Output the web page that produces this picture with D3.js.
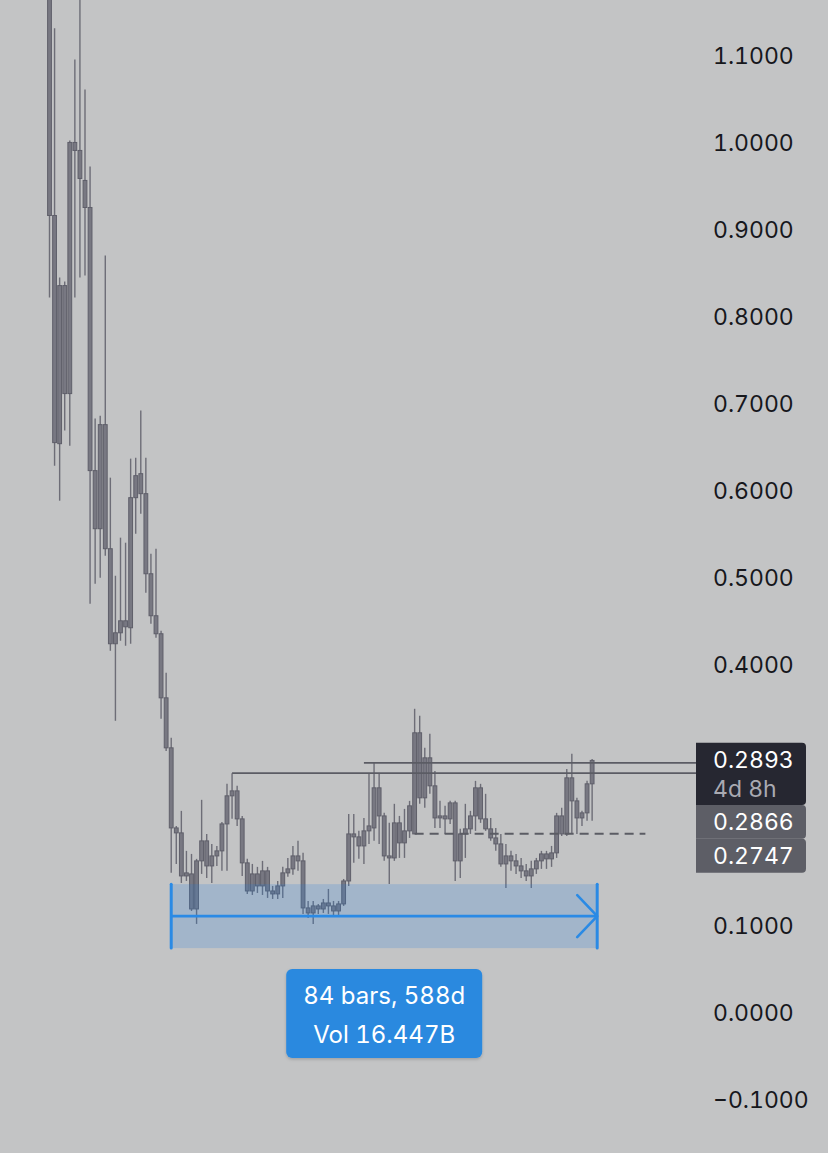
<!DOCTYPE html>
<html>
<head>
<meta charset="utf-8">
<script src="https://cdn.jsdelivr.net/npm/d3@7"></script>
<style>
  html, body { margin: 0; padding: 0; background: #c3c4c5; }
  svg { display: block; font-family: Inter, "Noto Sans", sans-serif; }
  svg text { font-variant-numeric: tabular-nums; font-feature-settings: "tnum" 1; }
</style>
</head>
<body>
<svg id="chart" width="828" height="1153"></svg>
<script>
// Weekly OHLC candles
const openP = [1.30, 0.9160, 0.6536, 0.8354, 0.7112, 1.0000, 0.9908, 0.9563, 0.9252, 0.6226,
  0.5558, 0.6755, 0.5328, 0.4235, 0.4361, 0.4499, 0.4419, 0.5915, 0.6191, 0.5961,
  0.5040, 0.4557, 0.4350, 0.3613, 0.3038, 0.2117, 0.2060, 0.1565, 0.1588, 0.1185,
  0.1738, 0.1968, 0.1680, 0.1795, 0.1853, 0.2163, 0.2486, 0.2543, 0.2221, 0.1715,
  0.1392, 0.1588, 0.1450, 0.1623, 0.1392, 0.1358, 0.1450, 0.1600, 0.1646, 0.1795,
  0.1738, 0.1197, 0.1139, 0.1220, 0.1185, 0.1254, 0.1220, 0.1162, 0.1243, 0.1507,
  0.2048, 0.2014, 0.1910, 0.2083, 0.2117, 0.2578, 0.2255, 0.1795, 0.1772, 0.2175,
  0.1945, 0.2083, 0.2048, 0.3211, 0.2463, 0.2923, 0.2601, 0.2232, 0.2255, 0.2221,
  0.2405, 0.1738, 0.2048, 0.2106, 0.2255, 0.2578, 0.2221, 0.2106, 0.2002, 0.1933,
  0.1703, 0.1795, 0.1738, 0.1680, 0.1623, 0.1565, 0.1646, 0.1738, 0.1818, 0.1761,
  0.1830, 0.2255, 0.2048, 0.2693, 0.2428, 0.2232, 0.2290, 0.2624];

const highP = [1.34, 1.1312, 0.8447, 0.8400, 1.0023, 1.0955, 1.19, 1.0610, 0.9724, 0.6824,
  0.6858, 0.8700, 0.6145, 0.5017, 0.5455, 0.5397, 0.6364, 0.6375, 0.6916, 0.6375,
  0.5270, 0.5328, 0.4384, 0.3901, 0.3153, 0.2140, 0.2313, 0.1853, 0.1818, 0.1761,
  0.2440, 0.2048, 0.1933, 0.1910, 0.2186, 0.2624, 0.2747, 0.2601, 0.2255, 0.1761,
  0.1703, 0.1669, 0.1738, 0.1669, 0.1450, 0.1507, 0.1669, 0.1772, 0.1910, 0.1968,
  0.1830, 0.1277, 0.1277, 0.1243, 0.1300, 0.1415, 0.1277, 0.1277, 0.1530, 0.2278,
  0.2278, 0.2083, 0.2232, 0.2739, 0.2866, 0.2739, 0.2290, 0.2175, 0.2394, 0.2255,
  0.2336, 0.2428, 0.3487, 0.3406, 0.3038, 0.3199, 0.2773, 0.2428, 0.2371, 0.2428,
  0.2428, 0.2106, 0.2394, 0.2313, 0.2658, 0.2624, 0.2509, 0.2232, 0.2117, 0.2048,
  0.1933, 0.1853, 0.1818, 0.1772, 0.1703, 0.1738, 0.1772, 0.1853, 0.1853, 0.1910,
  0.2290, 0.2348, 0.2796, 0.2969, 0.2463, 0.2313, 0.2658, 0.2911];

const lowP = [0.8216, 0.6283, 0.5880, 0.6686, 0.6513, 0.8216, 0.8447, 0.8470, 0.4695, 0.4925,
  0.4994, 0.5247, 0.4154, 0.3349, 0.4269, 0.4212, 0.4235, 0.5501, 0.5731, 0.4822,
  0.4465, 0.4304, 0.3372, 0.3003, 0.1600, 0.1703, 0.1484, 0.1507, 0.1162, 0.1013,
  0.1588, 0.1542, 0.1484, 0.1680, 0.1623, 0.1623, 0.2221, 0.2140, 0.1565, 0.1358,
  0.1346, 0.1369, 0.1346, 0.1312, 0.1300, 0.1300, 0.1312, 0.1554, 0.1577, 0.1623,
  0.1128, 0.1082, 0.1013, 0.1128, 0.1139, 0.1128, 0.1105, 0.1116, 0.1220, 0.1450,
  0.1715, 0.1761, 0.1703, 0.1933, 0.1968, 0.1933, 0.1738, 0.1473, 0.1738, 0.1772,
  0.1772, 0.2002, 0.2048, 0.2394, 0.2348, 0.2509, 0.2117, 0.2117, 0.2048, 0.2163,
  0.1507, 0.1542, 0.1772, 0.2048, 0.2083, 0.2175, 0.2083, 0.1968, 0.1853, 0.1669,
  0.1427, 0.1623, 0.1588, 0.1542, 0.1507, 0.1427, 0.1588, 0.1646, 0.1646, 0.1669,
  0.1772, 0.2025, 0.2025, 0.2048, 0.2048, 0.2140, 0.2198, 0.2198];

const closeP = [0.9160, 0.6548, 0.8354, 0.7112, 1.0000, 0.9908, 0.9586, 0.9252, 0.6226, 0.5558,
  0.6755, 0.5328, 0.4235, 0.4361, 0.4499, 0.4430, 0.5915, 0.6168, 0.5961, 0.5040,
  0.4557, 0.4350, 0.3613, 0.3038, 0.2117, 0.2060, 0.1565, 0.1600, 0.1185, 0.1738,
  0.1968, 0.1680, 0.1795, 0.1853, 0.2163, 0.2486, 0.2543, 0.2221, 0.1715, 0.1392,
  0.1588, 0.1450, 0.1623, 0.1392, 0.1358, 0.1450, 0.1600, 0.1646, 0.1795, 0.1738,
  0.1197, 0.1139, 0.1220, 0.1185, 0.1254, 0.1220, 0.1162, 0.1243, 0.1507, 0.2048,
  0.2014, 0.1910, 0.2083, 0.2140, 0.2578, 0.2255, 0.1795, 0.1772, 0.2175, 0.1945,
  0.2083, 0.2371, 0.3211, 0.2463, 0.2923, 0.2601, 0.2232, 0.2255, 0.2221, 0.2405,
  0.1738, 0.2048, 0.2106, 0.2255, 0.2578, 0.2221, 0.2106, 0.2002, 0.1933, 0.1703,
  0.1795, 0.1738, 0.1680, 0.1623, 0.1565, 0.1646, 0.1738, 0.1818, 0.1761, 0.1830,
  0.2255, 0.2048, 0.2693, 0.2428, 0.2232, 0.2290, 0.2624, 0.2893];

// Price axis ticks
const tickValues = [1.1, 1.0, 0.9, 0.8, 0.7, 0.6, 0.5, 0.4, 0.3, 0.2, 0.1, 0.0, -0.1];

// Horizontal levels: [price, start bar]
const levelPrices = [0.2866, 0.2747];
const levelStarts = [62, 36];
const dashedLevel = 0.2050;
const dashedFrom = 72, dashedTo = 117.5;

// Last price and countdown
const lastPrice = 0.2893;
const countdown = "4d 8h";

// Date range measurement
const rangeStart = 24, rangeBars = 84;
const rangeTop = 0.1470, rangeBottom = 0.0735;
const rangeLines = ["84 bars, 588d", "Vol 16.447B"];

const svg = d3.select("#chart");
const W = 828, H = 1153;
svg.append("rect").attr("width", W).attr("height", H).attr("fill", "#c3c4c5");

const nBars = closeP.length;
const x = d3.scaleLinear().domain([0, 108]).range([49.5, 597.2]);
const y = d3.scaleLinear().domain([0, 1.1]).range([1012, 55.5]);
const fmt = d3.format(".4f");

const bars = d3.range(nBars).map(i => ({ i, o: openP[i], h: highP[i], l: lowP[i], c: closeP[i] }));

// Price label stack on the axis (last price + level labels)
const labelX = 696, labelW = 110;
const lastY = y(lastPrice);
const darkTop = lastY - 17.8, darkH = 62.3, greyH = 33.85;
const stackBottom = darkTop + darkH + levelPrices.length * greyH;

// Axis labels hidden where the price label stack covers them
const shownTicks = tickValues.filter(v => y(v) + 12 < darkTop || y(v) - 12 > stackBottom);

const axis = d3.axisRight(y)
  .tickValues(shownTicks)
  .tickFormat(fmt)
  .tickSize(0)
  .tickPadding(0);
const axG = svg.append("g").attr("transform", "translate(713,0)").call(axis);
axG.select(".domain").remove();
axG.selectAll("text")
  .attr("font-family", "Inter, 'Noto Sans', sans-serif")
  .attr("font-size", 23)
  .attr("fill", "#16171c")
  .attr("dy", "0.35em");

// Candles
const cg = svg.append("g");
cg.selectAll("line.wick").data(bars).join("line")
  .attr("class", "wick")
  .attr("x1", d => x(d.i)).attr("x2", d => x(d.i))
  .attr("y1", d => y(d.h)).attr("y2", d => y(d.l))
  .attr("stroke", "#6d6d77").attr("stroke-width", 1.4);
cg.selectAll("rect.body").data(bars).join("rect")
  .attr("class", "body")
  .attr("x", d => x(d.i) - 1.9)
  .attr("width", 3.8)
  .attr("y", d => y(Math.max(d.o, d.c)))
  .attr("height", d => Math.max(1, Math.abs(y(d.o) - y(d.c))))
  .attr("fill", "#787882")
  .attr("stroke", "#5f5f6a")
  .attr("stroke-width", 1);

// Horizontal level lines
levelPrices.forEach((p, k) => {
  svg.append("line")
    .attr("x1", x(levelStarts[k])).attr("x2", labelX)
    .attr("y1", y(p)).attr("y2", y(p))
    .attr("stroke", "#5b5c64").attr("stroke-width", 1.8);
});
svg.append("line")
  .attr("x1", x(dashedFrom)).attr("x2", x(dashedTo))
  .attr("y1", y(dashedLevel)).attr("y2", y(dashedLevel))
  .attr("stroke", "#5b5c64").attr("stroke-width", 1.8)
  .attr("stroke-dasharray", "9,6");

// Date range measurement
const rx0 = x(rangeStart), rx1 = x(rangeStart + rangeBars);
const ry0 = y(rangeTop), ry1 = y(rangeBottom), rym = (ry0 + ry1) / 2;
svg.append("rect")
  .attr("x", rx0).attr("y", ry0)
  .attr("width", rx1 - rx0).attr("height", ry1 - ry0)
  .attr("fill", "#1e7fe0").attr("fill-opacity", 0.2);
const blue = "#2a8ae5";
[rx0, rx1].forEach(xx => {
  svg.append("line").attr("x1", xx).attr("x2", xx).attr("y1", ry0).attr("y2", ry1)
    .attr("stroke", blue).attr("stroke-width", 3).attr("stroke-linecap", "round");
});
svg.append("line").attr("x1", rx0).attr("x2", rx1).attr("y1", rym).attr("y2", rym)
  .attr("stroke", blue).attr("stroke-width", 2.6);
svg.append("path")
  .attr("d", `M${rx1 - 20},${rym - 21}L${rx1},${rym}L${rx1 - 20},${rym + 21}`)
  .attr("fill", "none").attr("stroke", blue).attr("stroke-width", 2.6)
  .attr("stroke-linecap", "round").attr("stroke-linejoin", "round");

// Range info box
const defs = svg.append("defs");
const f = defs.append("filter").attr("id", "shadow").attr("x", "-20%").attr("y", "-20%").attr("width", "140%").attr("height", "150%");
f.append("feDropShadow").attr("dx", 0).attr("dy", 1.5).attr("stdDeviation", 1.5)
  .attr("flood-color", "#000").attr("flood-opacity", 0.18);
const boxW = 196, boxH = 89;
const bx = (rx0 + rx1) / 2 - boxW / 2, by = ry1 + 21;
svg.append("rect").attr("x", bx).attr("y", by).attr("width", boxW).attr("height", boxH)
  .attr("rx", 6).attr("fill", "#2b89df").attr("filter", "url(#shadow)");
rangeLines.forEach((t, k) => {
  svg.append("text")
    .attr("x", bx + boxW / 2).attr("y", by + 34.5 + k * 39.5)
    .attr("text-anchor", "middle")
    .attr("font-size", 24).attr("fill", "#ffffff")
    .text(t);
});

// Price labels on the axis
function rightRounded(x0, y0, w, h, r) {
  return `M${x0},${y0}H${x0 + w - r}Q${x0 + w},${y0} ${x0 + w},${y0 + r}V${y0 + h - r}Q${x0 + w},${y0 + h} ${x0 + w - r},${y0 + h}H${x0}Z`;
}
svg.append("path").attr("d", rightRounded(labelX, darkTop, labelW, darkH, 4)).attr("fill", "#262731");
svg.append("text").attr("x", 713).attr("y", lastY).attr("dy", "0.35em")
  .attr("font-size", 23).attr("fill", "#ffffff").text(fmt(lastPrice));
svg.append("text").attr("x", 713).attr("y", lastY + 29).attr("dy", "0.35em")
  .attr("font-size", 23).attr("fill", "#a9aab2").text(countdown);

levelPrices.forEach((p, k) => {
  const top = darkTop + darkH + k * greyH;
  svg.append("path").attr("d", rightRounded(labelX, top, labelW, greyH, 4)).attr("fill", "#5d5e66");
  svg.append("text").attr("x", 713).attr("y", top + greyH / 2).attr("dy", "0.35em")
    .attr("font-size", 23).attr("fill", "#ffffff").text(fmt(p));
});
</script>
</body>
</html>
